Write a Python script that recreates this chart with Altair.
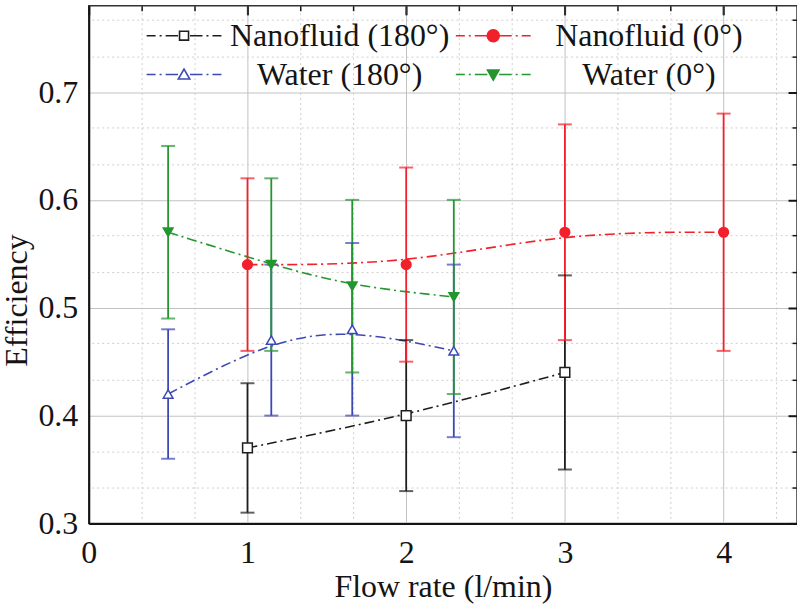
import altair as alt
import pandas as pd

# ---------------- data ----------------
series_names = ["Nanofluid (180°)", "Nanofluid (0°)", "Water (180°)", "Water (0°)"]

nf180_flow = [1, 2, 3]
nf180_eff = [0.37, 0.40, 0.44]
nf180_low = [0.31, 0.33, 0.35]
nf180_high = [0.43, 0.47, 0.53]

nf0_flow = [1, 2, 3, 4]
nf0_eff = [0.54, 0.54, 0.57, 0.57]
nf0_low = [0.46, 0.45, 0.47, 0.46]
nf0_high = [0.62, 0.63, 0.67, 0.68]

w180_flow = [0.5, 1.15, 1.66, 2.3]
w180_eff = [0.42, 0.47, 0.48, 0.46]
w180_low = [0.36, 0.40, 0.40, 0.38]
w180_high = [0.48, 0.54, 0.56, 0.54]

w0_flow = [0.5, 1.15, 1.66, 2.3]
w0_eff = [0.57, 0.54, 0.52, 0.51]
w0_low = [0.49, 0.46, 0.44, 0.42]
w0_high = [0.65, 0.62, 0.60, 0.60]

x_major = [0, 1, 2, 3, 4]
x_minor = [0.333, 0.667, 1.333, 1.667, 2.333, 2.667, 3.333, 3.667, 4.333]
y_major = [0.3, 0.4, 0.5, 0.6, 0.7]
y_minor = [0.333, 0.367, 0.433, 0.467, 0.533, 0.567, 0.633, 0.667, 0.733, 0.767]

# ---------------- styles ----------------
line_colors = ["#1e1e1e", "#f2202a", "#3d48b5", "#23962f"]
marker_fills = ["#ffffff", "#f2202a", "#ffffff", "#23962f"]
marker_shapes = ["square", "circle", "triangle-up", "triangle-down"]

dash_l = "M-7.5,0H-5.7M-4.9,0H-4.5M-3.7,0H-1.2"
dash_r = "M1.2,0H3.7M4.5,0H4.9M5.7,0H7.5"
legend_paths = [
    dash_l + dash_r + "M-0.9,-0.9H0.9V0.9H-0.9Z",
    dash_l + dash_r + "M-1.2,0A1.2,1.2,0,1,0,1.2,0A1.2,1.2,0,1,0,-1.2,0Z",
    dash_l + dash_r + "M0,-1.1L1.15,0.9L-1.15,0.9Z",
    dash_l + dash_r + "M0,1.1L1.15,-0.9L-1.15,-0.9Z",
]

FONT = "Liberation Serif"
TXT = "#141414"

rows = []
for name, fl, ef, lo, hi in [
    (series_names[0], nf180_flow, nf180_eff, nf180_low, nf180_high),
    (series_names[1], nf0_flow, nf0_eff, nf0_low, nf0_high),
    (series_names[2], w180_flow, w180_eff, w180_low, w180_high),
    (series_names[3], w0_flow, w0_eff, w0_low, w0_high),
]:
    for a, b, c, d in zip(fl, ef, lo, hi):
        rows.append({"series": name, "flow": a, "eff": b, "low": c, "high": d})
df = pd.DataFrame(rows)

xscale = alt.Scale(domain=[0, 4.4625], nice=False, zero=False)
yscale = alt.Scale(domain=[0.3, 0.78], nice=False, zero=False)


def cscale():
    return alt.Scale(domain=series_names, range=line_colors)


# main axes: labels, domain, major grid, title
axis_x_main = alt.Axis(
    values=x_major, format="d", grid=True, gridColor="#c2c2c2", gridWidth=1,
    domainColor=TXT, domainWidth=2, ticks=False,
    labelFont=FONT, labelFontSize=32, labelColor=TXT, labelPadding=29,
    labelBaseline="middle", labelFlush=False, labelOverlap=False,
    title="Flow rate (l/min)", titleFont=FONT, titleFontSize=32,
    titleFontWeight="normal", titleColor=TXT, titleY=63, titleBaseline="middle",
)
axis_y_main = alt.Axis(
    values=y_major, format=".1f", grid=True, gridColor="#c2c2c2", gridWidth=1,
    domainColor=TXT, domainWidth=2, ticks=False,
    labelFont=FONT, labelFontSize=32, labelColor=TXT, labelPadding=11,
    labelFlush=False, labelOverlap=False,
    title="Efficiency", titleFont=FONT, titleFontSize=32, titleFontWeight="normal",
    titleColor=TXT, titleX=-72, titleY=295, titleBaseline="middle", titleAlign="center",
)
# minor grids
axis_x_minor = alt.Axis(
    values=x_minor, grid=True, gridColor="#cfcfcf", gridDash=[2, 3], gridWidth=1,
    domain=False, labels=False, ticks=False, title=None,
)
axis_y_minor = alt.Axis(
    values=y_minor, grid=True, gridColor="#cfcfcf", gridDash=[2, 3], gridWidth=1,
    domain=False, labels=False, ticks=False, title=None,
)
# inward ticks (axes shifted inside the plot)
axis_x_tick_major = alt.Axis(
    values=x_major, grid=False, domain=False, labels=False, ticks=True,
    tickColor=TXT, tickWidth=2, tickSize=9, offset=-9, title=None,
)
axis_y_tick_major = alt.Axis(
    values=y_major, grid=False, domain=False, labels=False, ticks=True,
    tickColor=TXT, tickWidth=2, tickSize=9, offset=-9, title=None,
)
axis_x_tick_minor = alt.Axis(
    values=x_minor, grid=False, domain=False, labels=False, ticks=True,
    tickColor=TXT, tickWidth=1.5, tickSize=5, offset=-5, title=None,
)
axis_y_tick_minor = alt.Axis(
    values=y_minor, grid=False, domain=False, labels=False, ticks=True,
    tickColor=TXT, tickWidth=1.5, tickSize=5, offset=-5, title=None,
)
axis_x_top = alt.Axis(
    orient="top", values=x_major, grid=False, domain=False, labels=False,
    ticks=True, tickColor="#333333", tickWidth=1.5, tickSize=9, offset=-9, title=None,
)

base = alt.Chart(df)

lines = base.mark_line(interpolate="basis", strokeDash=[10, 4, 2, 4], strokeWidth=1.6).encode(
    x=alt.X("flow:Q", scale=xscale, axis=axis_x_main),
    y=alt.Y("eff:Q", scale=yscale, axis=axis_y_main),
    color=alt.Color("series:N", scale=cscale(), legend=None),
    detail="series:N",
)

bars = base.mark_rule(strokeWidth=1.8).encode(
    x=alt.X("flow:Q", scale=xscale, axis=axis_x_minor),
    y=alt.Y("low:Q", scale=yscale, axis=axis_y_minor),
    y2="high:Q",
    color=alt.Color("series:N", scale=cscale(), legend=None),
)

caps_low = base.mark_tick(orient="horizontal", size=14, thickness=2).encode(
    x=alt.X("flow:Q", scale=xscale, axis=axis_x_tick_major),
    y=alt.Y("low:Q", scale=yscale, axis=axis_y_tick_major),
    color=alt.Color("series:N", scale=cscale(), legend=None),
)
caps_high = base.mark_tick(orient="horizontal", size=14, thickness=2).encode(
    x=alt.X("flow:Q", scale=xscale, axis=axis_x_tick_minor),
    y=alt.Y("high:Q", scale=yscale, axis=axis_y_tick_minor),
    color=alt.Color("series:N", scale=cscale(), legend=None),
)

points = base.mark_point(filled=True, opacity=1, size=95, strokeWidth=1.5).encode(
    x=alt.X("flow:Q", scale=xscale, axis=axis_x_top),
    y=alt.Y("eff:Q", scale=yscale, axis=None),
    shape=alt.Shape("series:N", scale=alt.Scale(domain=series_names, range=marker_shapes), legend=None),
    fill=alt.Fill("series:N", scale=alt.Scale(domain=series_names, range=marker_fills), legend=None),
    stroke=alt.Stroke("series:N", scale=cscale(), legend=None),
)

leg = alt.Legend(
    orient="none", direction="horizontal", legendX=79.5, legendY=14, columns=2,
    columnPadding=3, rowPadding=7, title=None, labelFont=FONT, labelFontSize=32,
    labelColor=TXT, labelAlign="center", labelBaseline="middle", labelOffset=140,
    labelLimit=400, symbolSize=100, symbolStrokeWidth=1.6,
)

legend_layer = base.transform_filter("false").mark_point(filled=True, opacity=1).encode(
    shape=alt.Shape("series:N", scale=alt.Scale(domain=series_names, range=legend_paths), legend=leg),
    fill=alt.Fill("series:N", scale=alt.Scale(domain=series_names, range=marker_fills), legend=leg),
    stroke=alt.Stroke("series:N", scale=alt.Scale(domain=series_names, range=line_colors), legend=leg),
)

chart = (
    alt.layer(lines, bars, caps_low, caps_high, points, legend_layer)
    .resolve_scale(shape="independent", fill="independent", stroke="independent", color="independent")
    .resolve_axis(x="independent", y="independent")
    .properties(
        width=710, height=519,
        padding={"left": 89, "top": 5, "right": 0, "bottom": 85},
        autosize=alt.AutoSizeParams(type="none"),
        background="white",
    )
    .configure_view(stroke="#333333", strokeWidth=1.5)
)

chart.save("out.html", embed_options={"renderer": "svg", "actions": False})
